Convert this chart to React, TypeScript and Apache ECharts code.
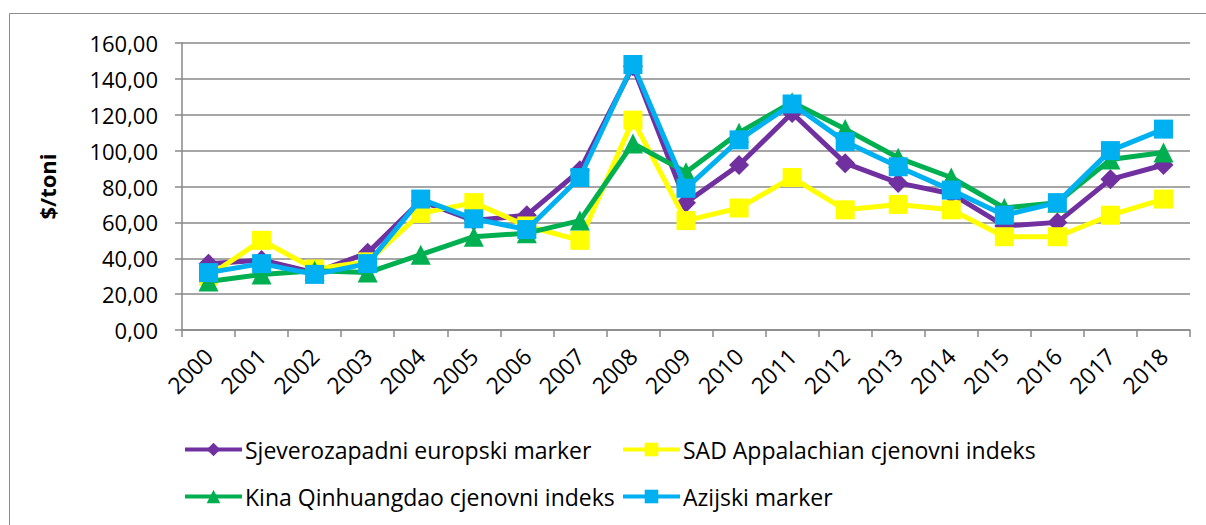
import React, { useEffect, useRef } from "react";
import * as echarts from "echarts";

const years = ["2000","2001","2002","2003","2004","2005","2006","2007","2008","2009","2010","2011","2012","2013","2014","2015","2016","2017","2018"];
const sjeverozapadni = [37, 39, 32, 43, 72, 61, 64, 89, 147, 71, 92, 121, 93, 82, 76, 58, 60, 84, 92];
const sad = [30, 50, 34, 38, 65, 71, 58, 50, 117, 61, 68, 85, 67, 70, 67, 52, 52, 64, 73];
const kina = [27, 31, 33, 32, 42, 52, 54, 61, 104, 88, 110, 127, 112, 96, 85, 68, 71, 95, 99];
const azijski = [32, 37, 31, 37, 73, 62, 56, 85, 148, 79, 106, 126, 105, 91, 78, 64, 71, 100, 112];

const names = [
  "Sjeverozapadni europski marker",
  "SAD Appalachian cjenovni indeks",
  "Kina Qinhuangdao cjenovni indeks",
  "Azijski marker",
];
const colors = ["#7030A0", "#FFFF00", "#00B050", "#00B0F0"];
const symbols = ["diamond", "rect", "triangle", "rect"];
const seriesData = [sjeverozapadni, sad, kina, azijski];

const FONT = "'Open Sans', 'Noto Sans', sans-serif";
const GRID_C = "#898989";

export default function App() {
  const ref = useRef<HTMLDivElement>(null);
  useEffect(() => {
    if (!ref.current) return;
    const chart = echarts.init(ref.current, null, { renderer: "svg" });
    const legendPos = [
      { left: 183, top: 438 },
      { left: 621, top: 438 },
      { left: 183, top: 485 },
      { left: 621, top: 485 },
    ];
    chart.setOption({
      animation: false,
      textStyle: { fontFamily: FONT },
      graphic: [
        {
          type: "rect",
          shape: { x: 9.5, y: 13.5, width: 1300, height: 700 },
          style: { fill: "none", stroke: "#8c8c8c", lineWidth: 1 },
          silent: true,
        },
      ],
      grid: { left: 182, right: 16, top: 43, bottom: 195, containLabel: false },
      legend: names.map((n, i) => ({
        data: [n],
        left: legendPos[i].left,
        top: legendPos[i].top,
        padding: 0,
        itemWidth: 57,
        itemHeight: 17,
        itemGap: 4,
        lineStyle: { width: 4 },
        textStyle: { fontFamily: FONT, fontSize: 23, color: "#000", padding: [0, 0, 0, -2] },
        selectedMode: false,
      })),
      xAxis: {
        type: "category",
        data: years,
        boundaryGap: true,
        axisLine: { lineStyle: { color: GRID_C, width: 1.5 } },
        axisTick: { show: true, length: 7, lineStyle: { color: GRID_C, width: 1.5 } },
        axisLabel: { rotate: 45, fontSize: 23, color: "#000", margin: 22, fontFamily: FONT },
      },
      yAxis: {
        type: "value",
        min: 0,
        max: 160,
        interval: 20,
        name: "$/toni",
        nameLocation: "middle",
        nameGap: 124,
        nameRotate: 90,
        nameTextStyle: { fontSize: 22, fontWeight: "bold", color: "#000", fontFamily: FONT },
        axisLine: { show: true, lineStyle: { color: GRID_C, width: 1.5 } },
        axisTick: { show: true, length: 7, lineStyle: { color: GRID_C, width: 1.5 } },
        splitLine: { lineStyle: { color: GRID_C, width: 1.5 } },
        axisLabel: {
          fontSize: 22,
          color: "#000",
          margin: 24,
          fontFamily: FONT,
          formatter: (v: number) => v.toFixed(2).replace(".", ","),
        },
      },
      series: names.map((n, i) => ({
        name: n,
        type: "line",
        data: seriesData[i],
        symbol: symbols[i],
        symbolSize: symbols[i] === "rect" ? 19 : 20,
        showAllSymbol: true,
        lineStyle: { color: colors[i], width: 5 },
        itemStyle: { color: colors[i] },
        z: 2 + i,
      })),
    });
    return () => chart.dispose();
  }, []);
  return <div ref={ref} style={{ width: 1206, height: 525, position: "absolute", left: 0, top: 0 }} />;
}
